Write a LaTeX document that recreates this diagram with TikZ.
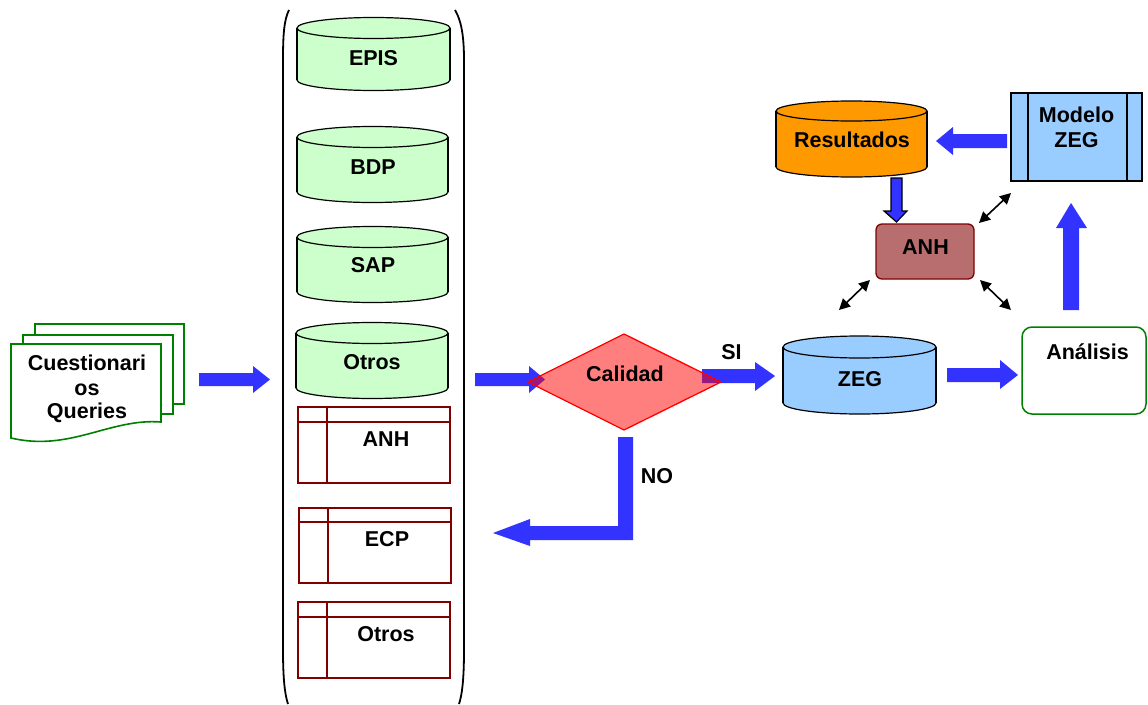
\documentclass[tikz,border=0pt]{standalone}
\usepackage{fontspec}
\setmainfont{Liberation Sans}
\usetikzlibrary{arrows.meta}
\definecolor{ablue}{RGB}{51,51,255}
\definecolor{dbgreen}{RGB}{204,255,204}
\definecolor{zegblue}{RGB}{153,204,255}
\definecolor{resorange}{RGB}{255,153,0}
\definecolor{anhfill}{RGB}{184,110,110}
\definecolor{dred}{RGB}{128,0,0}
\definecolor{docgreen}{RGB}{0,128,0}
\newcommand\mycyl[6]{%
  \pgfmathsetmacro\cx{(#1+#2)/2}%
  \pgfmathsetmacro\rx{(#2-#1)/2}%
  \filldraw[fill=#6, cylline] (\cx,#4) ellipse [x radius=\rx pt, y radius=#5pt];
  \fill[#6] (#1,#3) rectangle (#2,#4);
  \draw[cylline] (#1,#3) -- (#1,#4) (#2,#3) -- (#2,#4);
  \filldraw[fill=#6, cylline] (\cx,#3) ellipse [x radius=\rx pt, y radius=#5pt];
}
\newcommand\mytable[6]{%
  \filldraw[fill=white, tabline] (#1,#2) rectangle (#3,#4);
  \draw[tabline] (#1,#5) -- (#3,#5) (#6,#2) -- (#6,#4);
}
\begin{document}
\begin{tikzpicture}[x=1pt,y=-1pt,
  lbl/.style={font=\fontsize{21.5}{25}\selectfont\bfseries, text height=15.4pt, text depth=0pt, inner sep=0pt},
  cylline/.style={draw=black, line width=1.2pt},
  tabline/.style={draw=dred, line width=1.8pt},
  blockarrow/.style={fill=ablue, draw=none},
  docline/.style={draw=docgreen, line width=1.6pt, fill=white},
  dbl/.style={line width=1.6pt, {Triangle[length=11pt,width=11pt]}-{Triangle[length=11pt,width=11pt]}}
]
\useasboundingbox (0,0) rectangle (1148,704);

% ---------- document stack ----------
\draw[docline] (35,324) rectangle (184,404);
\draw[docline] (23,335) rectangle (173,414);
\draw[docline] (11,344) -- (161,344) -- (161,422) .. controls (110,418) and (70,452) .. (11,438) -- cycle;
\node[lbl] (cq1) at (87,363) {Cuestionari};
\node[lbl] (cq2) at (87,388) {os};
\node[lbl] (cq3) at (87,411) {Queries};

% ---------- container brackets ----------
\draw[line width=1.8pt] (289,10) .. controls (284,20) and (283,35) .. (283,60) -- (283,650) .. controls (283,680) and (285,695) .. (288,704);
\draw[line width=1.8pt] (455,10) .. controls (461,20) and (464,35) .. (464,60) -- (464,650) .. controls (464,680) and (462,695) .. (459,704);

% ---------- databases ----------
\mycyl{297}{450}{28}{80}{10.5}{dbgreen}
\node[lbl] (epis) at (373.5,58) {EPIS};
\mycyl{297}{448}{137}{192}{10.5}{dbgreen}
\node[lbl] (bdp) at (373,167) {BDP};
\mycyl{297}{448}{237}{292}{10.5}{dbgreen}
\node[lbl] (sap) at (373,265) {SAP};
\mycyl{296}{448}{333}{388}{10.5}{dbgreen}
\node[lbl] (otros1) at (372,362) {Otros};

% ---------- tables ----------
\mytable{298}{407}{450}{483}{422}{327}
\node[lbl] (anh1) at (386,439) {ANH};
\mytable{299}{508}{451}{583}{522}{328}
\node[lbl] (ecp) at (387,539) {ECP};
\mytable{298}{602}{450}{678}{617}{327}
\node[lbl] (otros2) at (386,634) {Otros};

% ---------- block arrows ----------
\fill[blockarrow] (199,373) -- (253,373) -- (253,366) -- (270,379.5) -- (253,393) -- (253,386) -- (199,386) -- cycle;
\fill[blockarrow] (475,373) -- (529,373) -- (529,366) -- (545,379.5) -- (529,393) -- (529,386) -- (475,386) -- cycle;
\fill[blockarrow] (702,369) -- (755,369) -- (755,362) -- (775,376) -- (755,391) -- (755,383) -- (702,383) -- cycle;
\fill[blockarrow] (618,437) -- (633,437) -- (633,540) -- (530,540) -- (530,546) -- (493,533) -- (530,519) -- (530,526) -- (618,526) -- cycle;

% ---------- decision ----------
\filldraw[fill=red, fill opacity=0.5, draw=red, line width=1.3pt] (528,382) -- (624,334) -- (721,382) -- (624,430) -- cycle;
\node[lbl] (calidad) at (625,374) {Calidad};
\node[lbl] (si) at (731.5,352) {SI};
\node[lbl] (no) at (657,476) {NO};

% ---------- ZEG ----------
\mycyl{783}{936}{347}{403}{11}{zegblue}
\node[lbl] (zeg) at (860,379) {ZEG};
\fill[blockarrow] (947,368) -- (1000,368) -- (1000,360) -- (1018,375) -- (1000,389) -- (1000,382) -- (947,382) -- cycle;

% ---------- Analisis ----------
\draw[draw=docgreen, line width=1.5pt, rounded corners=10pt] (1022,327) rectangle (1146,414);
\node[lbl] (analisis) at (1087.5,352) {Análisis};
\fill[blockarrow] (1063,310) -- (1063,228) -- (1056,228) -- (1071,203) -- (1087,228) -- (1079,228) -- (1079,310) -- cycle;

% ---------- Modelo ZEG ----------
\filldraw[fill=zegblue, draw=black, line width=1.5pt] (1011,93) rectangle (1142,181);
\draw[line width=1.5pt] (1028,93) -- (1028,181) (1127,93) -- (1127,181);
\node[lbl] (modelo1) at (1076.5,115) {Modelo};
\node[lbl] (modelo2) at (1076.5,140) {ZEG};
\fill[blockarrow] (1007,134) -- (953,134) -- (953,127) -- (936,141) -- (953,155) -- (953,148) -- (1007,148) -- cycle;

% ---------- Resultados ----------
\mycyl{776}{927}{111}{167}{10}{resorange}
\node[lbl] (resultados) at (852,140) {Resultados};
\filldraw[fill=ablue, draw=black, line width=1.2pt] (891,178) -- (902,178) -- (902,211) -- (907,211) -- (896.5,222) -- (884,211) -- (891,211) -- cycle;

% ---------- ANH ----------
\filldraw[fill=anhfill, draw=dred, line width=1.3pt, rounded corners=6pt] (876,224) rectangle (974,279);
\node[lbl] (anh2) at (925.5,247) {ANH};

% ---------- double arrows ----------
\coordinate (d1a) at (979,223);
\coordinate (d1b) at (1011,193);
\coordinate (d2a) at (839,310);
\coordinate (d2b) at (870,280);
\coordinate (d3a) at (980,280);
\coordinate (d3b) at (1011,310);
\draw[dbl] (d1a) -- (d1b);
\draw[dbl] (d2a) -- (d2b);
\draw[dbl] (d3a) -- (d3b);
\end{tikzpicture}
\end{document}
